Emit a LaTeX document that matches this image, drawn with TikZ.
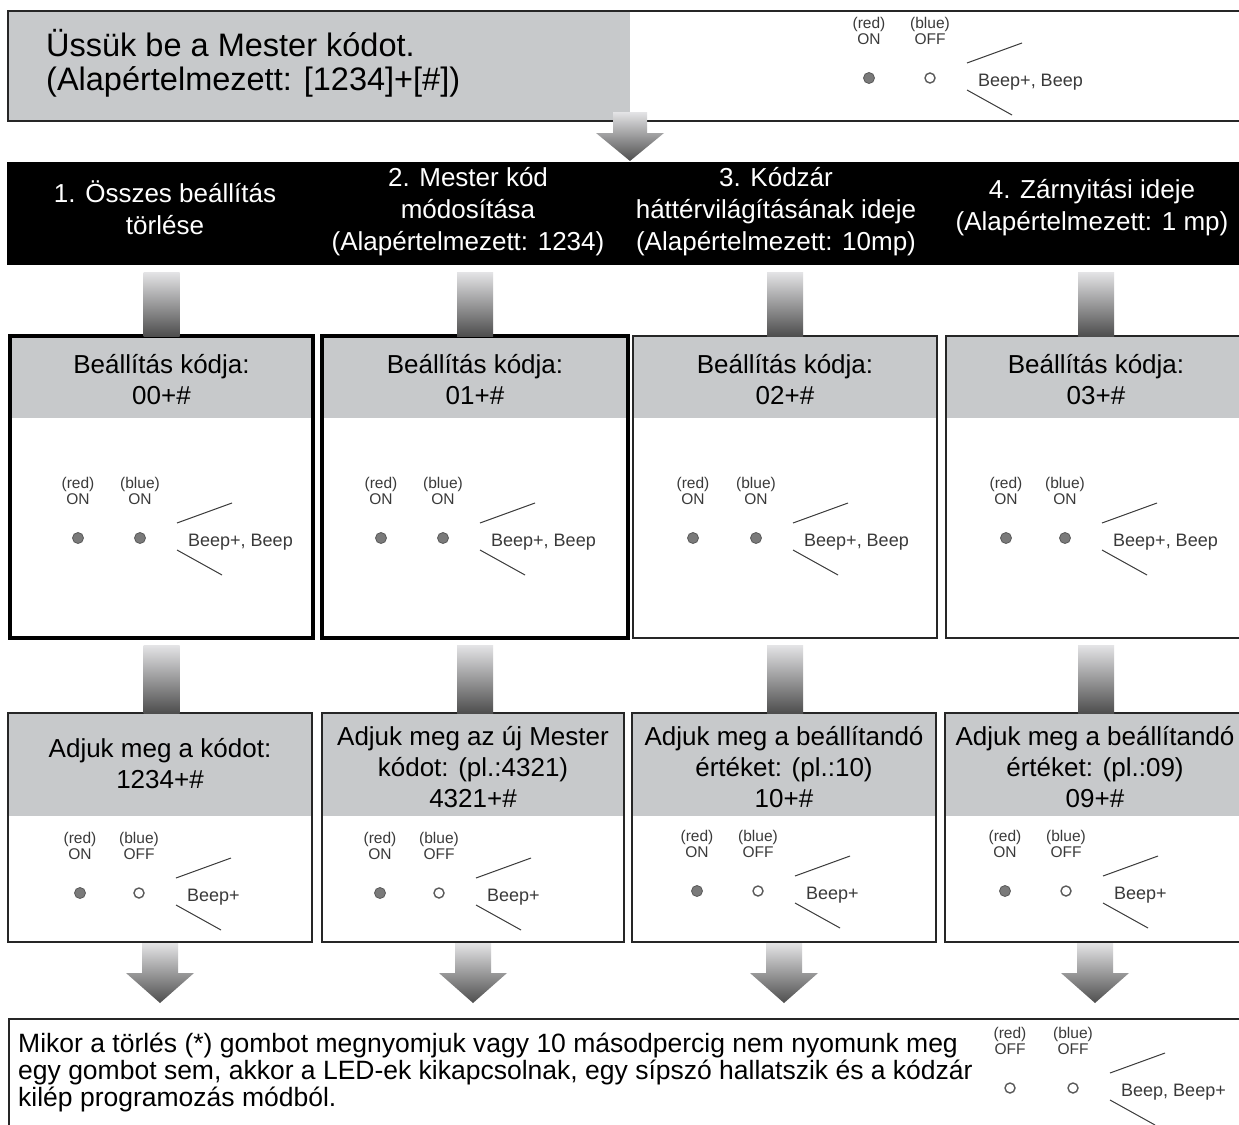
\documentclass[tikz,border=0pt]{standalone}
\usepackage{fontspec}
\setmainfont{Liberation Sans}
\usetikzlibrary{calc}
\definecolor{hgray}{HTML}{C7C9CB}
\definecolor{bartop}{HTML}{E4E4E6}
\definecolor{barbot}{HTML}{4E4E4E}
\definecolor{labgray}{HTML}{3A3A3A}
\definecolor{dotfill}{HTML}{7A7A7A}
\definecolor{dotdraw}{HTML}{5A5A5A}
\newcommand{\mybox}[7]{%
  \node[minimum width=#4, minimum height=#5, inner sep=0, outer sep=0] (#1) at (#2,#3) {};
  \fill[hgray] (#1.north west) rectangle ($(#1.north east)+(0,#6)$);
  \draw[#7] (#1.north west) rectangle (#1.south east);
}
\newcommand{\ledgrp}[9]{%
  \node[ledlab] (#1r) at (#2,#4-47) {(red)\\#5};
  \node[ledlab] (#1b) at (#3,#4-47) {(blue)\\#6};
  \node[#7] (#1rd) at (#2,#4) {};
  \node[#8] (#1bd) at (#3,#4) {};
  \node[beep] (#1bp) at (#3+48,#4+4) {#9};
  \draw[beepline] (#3+37,#4-15) -- (#3+92,#4-35);
  \draw[beepline] (#3+37,#4+12) -- (#3+82,#4+37);
}
\newcommand{\downarr}[1]{%
  \shade[barshade] ($(#1.south)+(-18,1)$) -- ++(36,0) -- ++(0,30) -- ++(16,0)
    -- ++(-34,30) -- ++(-34,-30) -- ++(16,0) -- cycle;
}
\begin{document}
\begin{tikzpicture}[x=1pt,y=-1pt,
  toptext/.style={font=\fontsize{32.5}{34}\selectfont, align=left, inner sep=0, anchor=west},
  hdrtext/.style={font=\fontsize{26}{32}\selectfont, text=white, align=center, inner sep=0},
  boxtext/.style={font=\fontsize{26}{31}\selectfont, align=center, inner sep=0},
  bottext/.style={font=\fontsize{26.5}{27}\selectfont, align=left, inner sep=0, anchor=west},
  ledlab/.style={font=\fontsize{15.5}{16.5}\selectfont, text=labgray, align=center, inner sep=0},
  beep/.style={font=\fontsize{18}{20}\selectfont, text=labgray, inner sep=0, anchor=west},
  beepline/.style={draw=labgray, line width=1},
  ledon/.style={circle, fill=dotfill, draw=dotdraw, line width=0.8, minimum size=11, inner sep=0},
  ledoff/.style={circle, fill=white, draw=dotdraw, line width=1.4, minimum size=10, inner sep=0},
  thickbox/.style={draw=black, line width=3.5},
  thinbox/.style={draw=black!85, line width=2},
  barshade/.style={top color=bartop, bottom color=barbot, draw=none}]
\useasboundingbox (0,0) rectangle (1239,1124);
\clip (0,0) rectangle (1239,1124);
\fill[white] (0,0) rectangle (1239,1124);

% top box
\fill[hgray] (7,10) rectangle (630,120);
\node[draw=black!85, line width=1.8, minimum width=1250, minimum height=110, anchor=north west, inner sep=0] (topbox) at (7,10) {};
\node[toptext] (toptxt) at (46,63) {Üssük be a Mester kódot.\\(Alapértelmezett: [1234]+[\#])};
\ledgrp{t}{869}{930}{78}{ON}{OFF}{ledon}{ledoff}{Beep+, Beep}

% top arrow
\coordinate (ta) at (630,112);
\shade[barshade] ($(ta)+(-17,0)$) -- ++(34,0) -- ++(0,21) -- ++(17,0) -- ++(-34,28) -- ++(-34,-28) -- ++(17,0) -- cycle;

% header bar
\node[fill=black, minimum width=1250, minimum height=103, anchor=north west, inner sep=0] (hdr) at (7,162) {};
\node[hdrtext] (h1) at (165,208) {1. Összes beállítás\\törlése};
\node[hdrtext] (h2) at (468,212) {2. Mester kód\\módosítása\\(Alapértelmezett: 1234)};
\node[hdrtext] (h3) at (776,212) {3. Kódzár\\háttérvilágításának ideje\\(Alapértelmezett: 10mp)};
\node[hdrtext] (h4) at (1092,208) {4. Zárnyitási ideje\\(Alapértelmezett: 1 mp)};

% middle boxes
\mybox{m1}{161.5}{487}{303}{302}{82}{thickbox}
\mybox{m2}{475}{487}{306}{302}{82}{thickbox}
\mybox{m3}{785}{487}{304}{302}{82}{thinbox}
\mybox{m4}{1096}{487}{300}{302}{82}{thinbox}
\foreach \n/\c in {m1/00, m2/01, m3/02, m4/03}{
  \node[boxtext] (\n t) at ($(\n.north)+(0,44)$) {Beállítás kódja:\\\c+\#};
}
\ledgrp{m1}{78}{140}{538}{ON}{ON}{ledon}{ledon}{Beep+, Beep}
\ledgrp{m2}{381}{443}{538}{ON}{ON}{ledon}{ledon}{Beep+, Beep}
\ledgrp{m3}{693}{756}{538}{ON}{ON}{ledon}{ledon}{Beep+, Beep}
\ledgrp{m4}{1006}{1065}{538}{ON}{ON}{ledon}{ledon}{Beep+, Beep}

% bars header -> middle
\foreach \n in {m1,m2,m3,m4}{
  \shade[barshade] ($(\n.north)+(-18,-64)$) rectangle ($(\n.north)+(18,0)$);
}

% bottom row boxes
\mybox{b1}{160}{827.5}{304}{229}{103}{thinbox}
\mybox{b2}{473}{827.5}{302}{229}{103}{thinbox}
\mybox{b3}{784}{827.5}{304}{229}{103}{thinbox}
\mybox{b4}{1095}{827.5}{300}{229}{103}{thinbox}
\node[boxtext] (b1t) at ($(b1.north)+(0,51)$) {Adjuk meg a kódot:\\1234+\#};
\node[boxtext] (b2t) at ($(b2.north)+(0,54)$) {Adjuk meg az új Mester\\kódot: (pl.:4321)\\4321+\#};
\node[boxtext] (b3t) at ($(b3.north)+(0,54)$) {Adjuk meg a beállítandó\\értéket: (pl.:10)\\10+\#};
\node[boxtext] (b4t) at ($(b4.north)+(0,54)$) {Adjuk meg a beállítandó\\értéket: (pl.:09)\\09+\#};
\ledgrp{b1}{80}{139}{893}{ON}{OFF}{ledon}{ledoff}{Beep+}
\ledgrp{b2}{380}{439}{893}{ON}{OFF}{ledon}{ledoff}{Beep+}
\ledgrp{b3}{697}{758}{891}{ON}{OFF}{ledon}{ledoff}{Beep+}
\ledgrp{b4}{1005}{1066}{891}{ON}{OFF}{ledon}{ledoff}{Beep+}

% bars middle -> bottom
\foreach \m/\b in {m1/b1,m2/b2,m3/b3,m4/b4}{
  \shade[barshade] ($(\m.south)+(-18,7)$) rectangle ($(\m.south |- \b.north)+(18,0)$);
}

% final box
\node[draw=black!85, line width=2, minimum width=1250, minimum height=130, anchor=north west, inner sep=0] (fin) at (8,1018) {};
\foreach \b in {b1,b2,b3,b4}{ \downarr{\b} }
\node[bottext] (fint) at (18,1072) {Mikor a törlés (*) gombot megnyomjuk vagy 10 másodpercig nem nyomunk meg\\egy gombot sem, akkor a LED-ek kikapcsolnak, egy sípszó hallatszik és a kódzár\\kilép programozás módból.};
\ledgrp{f}{1010}{1073}{1088}{OFF}{OFF}{ledoff}{ledoff}{Beep, Beep+}
\end{tikzpicture}
\end{document}
